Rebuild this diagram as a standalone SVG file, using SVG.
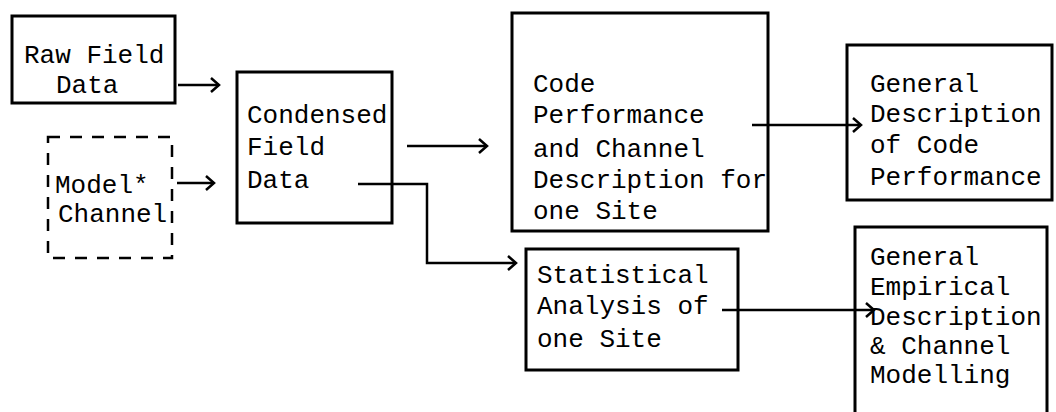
<svg xmlns="http://www.w3.org/2000/svg" width="1056" height="412" viewBox="0 0 1056 412">
<style>
.box{fill:none;stroke:#000;stroke-width:3}
.dash{fill:none;stroke:#000;stroke-width:2.5;stroke-dasharray:12 10}
.t{font-family:"Liberation Mono","Courier New",monospace;font-size:26px;fill:#000}
.c{fill:none;stroke:#000;stroke-width:2.5}
</style>
<defs>
<marker id="ah" markerUnits="userSpaceOnUse" markerWidth="14" markerHeight="16" refX="10" refY="8" orient="auto">
<path d="M2,1 L10,8 L2,15" fill="none" stroke="#000" stroke-width="2.5"/>
</marker>
</defs>
<rect width="1056" height="412" fill="#fff"/>
<g id="raw">
<rect class="box" x="12" y="16" width="163" height="87"/>
<text class="t" x="24" y="63">Raw Field</text>
<text class="t" x="56" y="93">Data</text>
</g>
<g id="model">
<rect class="dash" x="48" y="137" width="124" height="121"/>
<text class="t" x="55" y="193">Model*</text>
<text class="t" x="58" y="222">Channel</text>
</g>
<g id="condensed">
<rect class="box" x="237" y="72" width="155" height="151"/>
<text class="t" x="247" y="123">Condensed</text>
<text class="t" x="247" y="155">Field</text>
<text class="t" x="247" y="188">Data</text>
</g>
<g id="codeperf">
<rect class="box" x="512" y="13" width="256" height="218"/>
<text class="t" x="533" y="92">Code</text>
<text class="t" x="533" y="123">Performance</text>
<text class="t" x="533" y="157">and Channel</text>
<text class="t" x="533" y="188">Description for</text>
<text class="t" x="533" y="219">one Site</text>
</g>
<g id="gendesc">
<rect class="box" x="847" y="45" width="205" height="155"/>
<text class="t" x="870" y="92">General</text>
<text class="t" x="870" y="122">Description</text>
<text class="t" x="870" y="153">of Code</text>
<text class="t" x="870" y="185">Performance</text>
</g>
<g id="stat">
<rect class="box" x="526" y="249" width="212" height="121"/>
<text class="t" x="537" y="283">Statistical</text>
<text class="t" x="537" y="314">Analysis of</text>
<text class="t" x="537" y="347">one Site</text>
</g>
<g id="genemp">
<path class="box" d="M855,414 L855,227 L1047,227 L1047,414"/>
<text class="t" x="870" y="265">General</text>
<text class="t" x="870" y="295">Empirical</text>
<text class="t" x="870" y="325">Description</text>
<text class="t" x="870" y="354">&amp; Channel</text>
<text class="t" x="870" y="383">Modelling</text>
</g>
<g id="connectors">
<path class="c" d="M178,85 L219,85" marker-end="url(#ah)"/>
<path class="c" d="M177,183 L214,183" marker-end="url(#ah)"/>
<path class="c" d="M407,146 L487,146" marker-end="url(#ah)"/>
<path class="c" d="M358,184 L427,184 L427,263 L516,263" marker-end="url(#ah)"/>
<path class="c" d="M752,125 L861,125" marker-end="url(#ah)"/>
<path class="c" d="M722,310 L874,310" marker-end="url(#ah)"/>
</g>
</svg>
